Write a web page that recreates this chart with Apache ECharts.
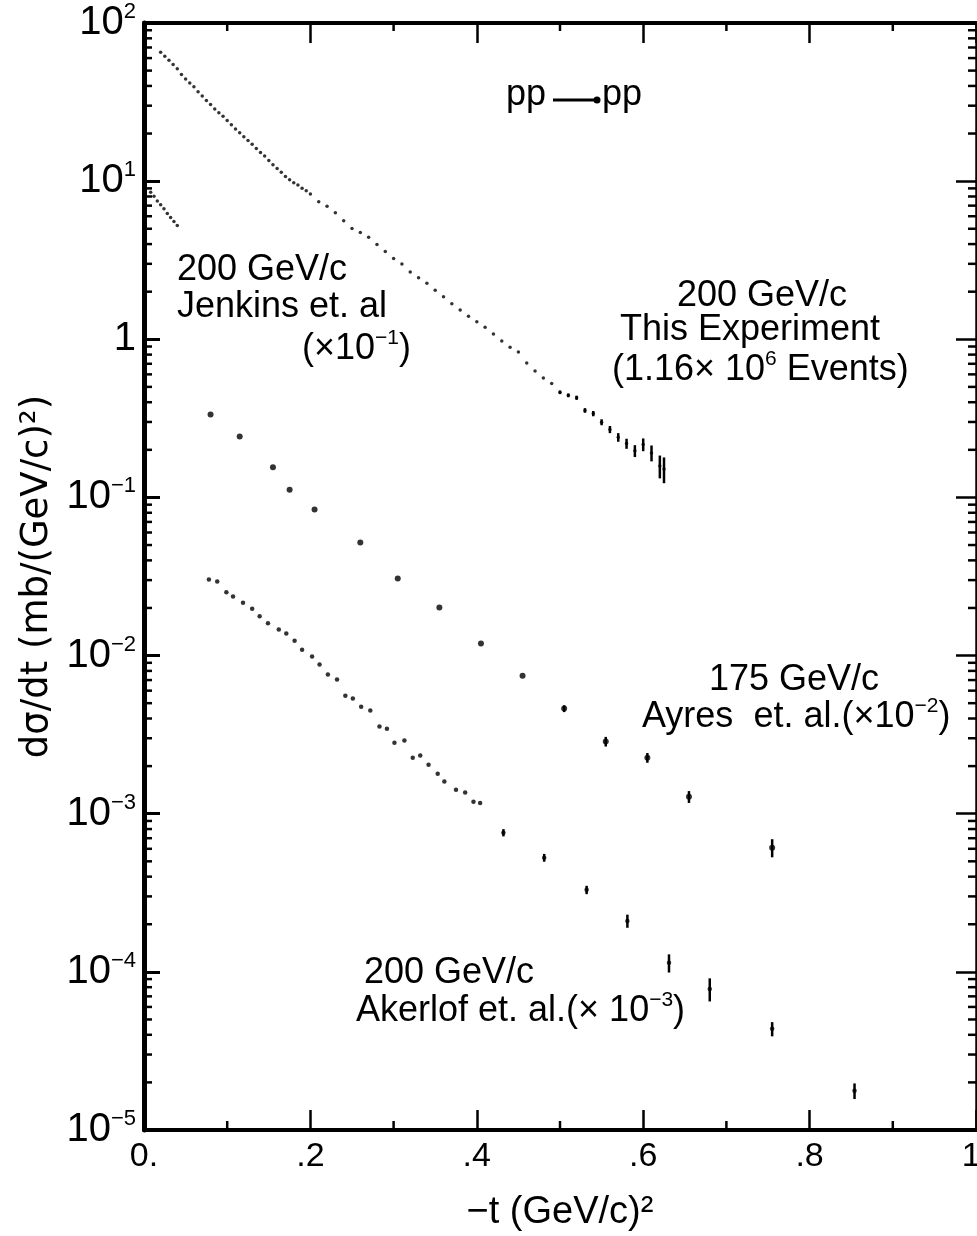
<!DOCTYPE html>
<html><head><meta charset="utf-8">
<script src="https://cdn.jsdelivr.net/npm/echarts@6/dist/echarts.min.js"></script>
<style>html,body{margin:0;padding:0;background:#fff}#c{width:977px;height:1236px}</style>
</head><body><div id="c"></div>
<script>
// ---- data ----
// This experiment, 200 GeV/c
const expT = [0.02,0.025,0.03,0.035,0.04,0.045,0.05,0.055,0.06,0.065,0.07,0.075,0.08,0.085,0.09,0.095,0.10,0.105,0.11,0.115,0.12,0.125,0.13,0.135,0.14,0.145,0.15,0.155,0.16,0.165,0.17,0.175,0.18,0.185,0.19,0.195,
  0.20,0.21,0.22,0.23,0.24,0.25,0.26,0.27,0.28,0.29,0.30,0.31,0.32,0.33,0.34,0.35,0.36,0.37,0.38,0.39,0.40,0.41,0.42,0.43,0.44,0.45,0.46,0.47,0.48,0.49,0.50,0.51,0.52,0.53,0.54,0.55,0.56,0.57,0.58,0.59,0.60,0.61,0.62,0.625];
const expDsdt = [65.3,61.7,58.2,54.7,51.3,47.3,44.2,41.7,39.5,36.8,34.5,32.4,30.5,28.6,27.1,25.7,24.2,22.7,21.4,20.2,19.1,18.1,17.1,16.1,15.2,14.4,13.5,12.7,12.0,11.4,10.7,10.2,9.77,9.44,9.02,8.71,
  8.28,7.41,6.95,6.31,5.62,5.01,4.73,4.42,3.98,3.59,3.24,2.99,2.66,2.45,2.26,2.04,1.86,1.68,1.53,1.40,1.29,1.19,1.08,0.977,0.891,0.832,0.708,0.631,0.569,0.525,0.462,0.442,0.427,0.355,0.339,0.299,0.269,0.240,0.219,0.197,0.216,0.191,0.158,0.151];
const expErr = [0,0,0,0,0,0,0,0,0,0,0,0,0,0,0,0,0,0,0,0,0,0,0,0,0,0,0,0,0,0,0,0,0,0,0,0,
  0,0,0,0,0,0,0,0,0,0,0,0,0,0,0,0,0,0,0,0,0,0,0,0,0,0,0,0,0,0,0.012,0.012,0.013,0.012,0.013,0.013,0.014,0.015,0.016,0.017,0.020,0.022,0.026,0.028];
// Jenkins et al., 200 GeV/c (x 10^-1)
const jenT = [0.008,0.012,0.016,0.020,0.024,0.028,0.032,0.036,0.040];
const jenDsdt = [8.51,8.04,7.50,7.08,6.68,6.24,5.89,5.56,5.25];
// Ayres et al., 175 GeV/c (x 10^-2)
const ayrT = [0.08,0.115,0.155,0.175,0.205,0.26,0.305,0.355,0.405,0.455,0.505,0.555,0.605,0.655,0.755];
const ayrDsdt = [0.335,0.243,0.155,0.112,0.0839,0.0519,0.0307,0.0201,0.0119,0.00746,0.00462,0.00286,0.00226,0.00128,0.00061];
const ayrErr = [0,0,0,0,0,0,0,0,0,0,0.00023,0.0002,0.00016,0.00011,0.00008];
// Akerlof et al., 200 GeV/c (x 10^-3)
const akeT = [0.078,0.088,0.099,0.107,0.119,0.130,0.139,0.149,0.162,0.171,0.181,0.190,0.202,0.211,0.221,0.232,0.242,0.251,0.261,0.272,0.283,0.292,0.301,0.313,0.323,0.332,0.342,0.353,0.361,0.375,0.386,0.396,0.404,
  0.432,0.481,0.532,0.581,0.631,0.680,0.755,0.854];
const akeDsdt = [0.0303,0.0294,0.0251,0.0236,0.0216,0.0198,0.0177,0.0160,0.0146,0.0138,0.0124,0.0109,0.00986,0.00877,0.00759,0.00705,0.00558,0.00535,0.00475,0.00449,0.00356,0.00345,0.00281,0.00290,0.00226,0.00233,0.00204,0.00179,0.00160,0.00142,0.00136,0.00119,0.00117,
  0.000759,0.000527,0.000330,0.000210,0.000114,0.0000780,0.0000436,0.0000177];
const akeErr = [0,0,0,0,0,0,0,0,0,0,0,0,0,0,0,0,0,0,0,0,0,0,0,0,0,0,0,0,0,0,0,0,0,
  0.00004,0.00003,0.00002,0.00002,0.000015,0.000013,0.0000045,0.000002];
// axes
const xTickLabels = {'0':'0.','0.2':'.2','0.4':'.4','0.6':'.6','0.8':'.8','1':'1.'};
const xMinorTicks = [0.1,0.3,0.5,0.7,0.9];
const yDecades = [-5,-4,-3,-2,-1,0,1];
const yMinorMultipliers = [2,3,4,5,6,7,8,9];

// ---- build ----
const FONT = '"Liberation Sans", Arial, sans-serif';
const FONT_WIDE = '"DejaVu Sans", sans-serif';
const pairs = (t, v) => t.map((x, i) => [x, v[i]]);
function errData(t, v, e) {
  const out = [];
  t.forEach((x, i) => { if (e[i] > 0) out.push([x, v[i] - e[i], v[i] + e[i]]); });
  return out;
}
const tickData = [];
yDecades.forEach(d => yMinorMultipliers.forEach(m => {
  const v = m * Math.pow(10, d);
  tickData.push([0, v, 0, 8]);
  tickData.push([1, v, 1, 8]);
}));
xMinorTicks.forEach(x => { tickData.push([x, 1e-5, 2, 9]); tickData.push([x, 100, 3, 8]); });

function tickItem(params, api) {
  const side = api.value(2), L = api.value(3);
  const p = api.coord([api.value(0), api.value(1)]);
  let x2 = p[0], y2 = p[1];
  if (side === 0) x2 += L; else if (side === 1) x2 -= L; else if (side === 2) y2 -= L; else y2 += L;
  return {type: 'line', shape: {x1: p[0], y1: p[1], x2: x2, y2: y2}, style: {stroke: '#000', lineWidth: 2.5}};
}
function errItem(params, api) {
  const a = api.coord([api.value(0), api.value(1)]);
  const b = api.coord([api.value(0), api.value(2)]);
  return {type: 'line', shape: {x1: a[0], y1: a[1], x2: b[0], y2: b[1]}, style: {stroke: '#000', lineWidth: 2.5}};
}

const richAnn = {
  n: {fontSize: 36, fontFamily: FONT, color: '#000', lineHeight: 42},
  s: {fontSize: 21, fontFamily: FONT, color: '#000', verticalAlign: 'top', lineHeight: 22}
};
function txt(x, y, text) {
  return {type: 'text', x: x, y: y, silent: true,
    style: {text: text, fill: '#000', fontSize: 36, fontFamily: FONT, verticalAlign: 'middle', align: 'left', rich: richAnn}};
}

const chart = echarts.init(document.getElementById('c'), null, {renderer: 'canvas'});
const axisLine = w => ({show: true, onZero: false, lineStyle: {color: '#000', width: w}});
chart.setOption({
  animation: false,
  backgroundColor: '#fff',
  grid: {left: 144, right: 1, top: 23, bottom: 106, containLabel: false, outerBoundsMode: 'none'},
  xAxis: [{
    type: 'value', position: 'bottom', min: 0, max: 1, interval: 0.2,
    axisLine: axisLine(4), splitLine: {show: false},
    axisTick: {inside: true, length: 20, lineStyle: {color: '#000', width: 2.5}},
    axisLabel: {margin: 10, color: '#000', fontSize: 34, fontFamily: FONT,
      formatter: v => xTickLabels[String(Math.round(v * 10) / 10)] || ''},
    name: '−t (GeV/c)²', nameLocation: 'middle', nameGap: 64,
    nameTextStyle: {color: '#000', fontSize: 38, fontFamily: FONT}
  }, {
    type: 'value', position: 'top', min: 0, max: 1, interval: 0.2,
    axisLine: axisLine(4), splitLine: {show: false},
    axisTick: {inside: true, length: 20, lineStyle: {color: '#000', width: 2.5}},
    axisLabel: {show: false}
  }],
  yAxis: [{
    type: 'log', position: 'left', min: 1e-5, max: 100, logBase: 10, splitNumber: 7,
    axisLine: axisLine(5), splitLine: {show: false},
    axisTick: {inside: true, length: 16, lineStyle: {color: '#000', width: 3}},
    axisLabel: {margin: 8, color: '#000',
      formatter: v => {
        const e = Math.round(Math.log10(v));
        if (e === 0) return '{b|1}';
        return '{b|10}{s|' + (e < 0 ? '−' : '') + Math.abs(e) + '}';
      },
      rich: {
        b: {fontSize: 40, fontFamily: FONT, color: '#000', lineHeight: 44},
        s: {fontSize: 22, fontFamily: FONT, color: '#000', verticalAlign: 'top', lineHeight: 22}
      }},
    name: 'dσ/dt (mb/(GeV/c)²)', nameLocation: 'middle', nameRotate: 90, nameGap: 80,
    nameTextStyle: {color: '#000', fontSize: 37, fontFamily: FONT_WIDE}
  }, {
    type: 'log', position: 'right', min: 1e-5, max: 100, logBase: 10, splitNumber: 7,
    axisLine: axisLine(2.5), splitLine: {show: false},
    axisTick: {inside: true, length: 20, lineStyle: {color: '#000', width: 2.5}},
    axisLabel: {show: false}
  }],
  series: [
    {name: 'This Experiment', type: 'scatter', data: pairs(expT, expDsdt), symbol: 'circle', symbolSize: 3.5,
      itemStyle: {color: '#000'}, xAxisIndex: 0, yAxisIndex: 0},
    {name: 'Jenkins et al.', type: 'scatter', data: pairs(jenT, jenDsdt), symbol: 'circle', symbolSize: 3.5,
      itemStyle: {color: '#000'}, xAxisIndex: 0, yAxisIndex: 0},
    {name: 'Ayres et al.', type: 'scatter', data: pairs(ayrT, ayrDsdt), symbol: 'circle', symbolSize: 6,
      itemStyle: {color: '#000'}, xAxisIndex: 0, yAxisIndex: 0},
    {name: 'Akerlof et al.', type: 'scatter', data: pairs(akeT, akeDsdt), symbol: 'circle', symbolSize: 4.5,
      itemStyle: {color: '#000'}, xAxisIndex: 0, yAxisIndex: 0},
    {type: 'custom', name: 'errors', renderItem: errItem, clip: false, silent: true,
      data: errData(expT, expDsdt, expErr).concat(errData(ayrT, ayrDsdt, ayrErr), errData(akeT, akeDsdt, akeErr)),
      encode: {x: 0, y: [1, 2]}, xAxisIndex: 0, yAxisIndex: 0},
    {type: 'custom', name: 'minorTicks', renderItem: tickItem, clip: false, silent: true,
      data: tickData, encode: {x: 0, y: 1}, xAxisIndex: 0, yAxisIndex: 0}
  ],
  graphic: [
    txt(506, 95, '{n|pp}'),
    {type: 'line', silent: true, shape: {x1: 553, y1: 100, x2: 596, y2: 100}, style: {stroke: '#000', lineWidth: 3}},
    {type: 'circle', silent: true, shape: {cx: 597, cy: 100, r: 3.5}, style: {fill: '#000'}},
    txt(602, 95, '{n|pp}'),
    txt(177, 270, '{n|200 GeV/c}'),
    txt(177, 307, '{n|Jenkins et. al}'),
    txt(302, 349, '{n|(×10}{s|−1}{n|)}'),
    txt(677, 296, '{n|200 GeV/c}'),
    txt(620, 330, '{n|This Experiment}'),
    txt(612, 370, '{n|(1.16× 10}{s|6}{n| Events)}'),
    txt(709, 680, '{n|175 GeV/c}'),
    txt(642, 717, '{n|Ayres  et. al.(×10}{s|−2}{n|)}'),
    txt(364, 973, '{n|200 GeV/c}'),
    txt(356, 1011, '{n|Akerlof et. al.(× 10}{s|−3}{n|)}')
  ]
});
</script></body></html>
